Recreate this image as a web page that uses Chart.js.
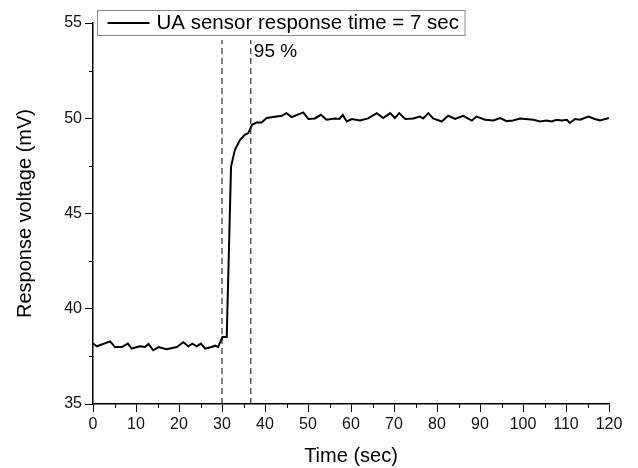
<!DOCTYPE html>
<html>
<head>
<meta charset="utf-8">
<script src="https://cdn.jsdelivr.net/npm/chart.js@4.4.1/dist/chart.umd.min.js"></script>
<style>
  html, body { margin: 0; padding: 0; background: #fff; }
  #wrap { width: 638px; height: 468px; position: relative; }
</style>
</head>
<body>
<div id="wrap"><canvas id="canvas"></canvas></div>
<script>
// response curve
var timeSec = [0, 0.9, 4.0, 5.1, 6.7, 8.1, 9.0, 10.9, 12.1, 12.9, 14.0, 15.2, 17.1, 19.5, 21.0, 22.2, 23.1, 24.1, 25.1, 26.1, 27.6, 28.4, 29.1,
  30.1, 31.1, 32.1, 33.0, 34.2, 35.3, 36.1, 37.0, 38.1, 39.2, 40.4, 41.9, 43.9, 45.0, 46.2, 48.9, 50.1, 51.6, 53.0, 54.3, 56.3, 57.3, 58.1,
  59.0, 60.2, 62.1, 64.0, 66.0, 67.5, 69.1, 70.2, 71.2, 72.6, 74.5, 76.0, 76.8, 78.0, 79.1, 81.1, 82.6, 84.2, 86.1, 88.1, 89.2, 91.2, 93.1,
  94.7, 96.2, 97.7, 99.3, 102.4, 104.0, 105.5, 106.7, 107.8, 109.0, 110.2, 110.9, 112.1, 113.3, 115.2, 116.7, 117.9, 120.0];
var voltage = [38.17, 38.03, 38.29, 37.99, 37.99, 38.17, 37.91, 38.03, 37.99, 38.15, 37.82, 37.99, 37.88, 37.99, 38.24, 38.03, 38.17, 38.03, 38.17, 37.91, 37.99, 38.06, 37.99,
  38.52, 38.52, 47.46, 48.34, 48.87, 49.13, 49.22, 49.66, 49.78, 49.78, 50.01, 50.06, 50.13, 50.27, 50.06, 50.31, 49.96, 49.99, 50.18, 49.92, 49.99, 49.96, 50.17,
  49.83, 49.96, 49.88, 49.99, 50.27, 50.01, 50.27, 50.01, 50.27, 49.96, 49.99, 50.09, 49.99, 50.27, 49.99, 49.83, 50.13, 49.96, 50.13, 49.88, 50.09, 49.92, 49.88,
  50.01, 49.85, 49.88, 49.99, 49.92, 49.83, 49.88, 49.83, 49.92, 49.88, 49.92, 49.75, 49.96, 49.92, 50.09, 49.96, 49.88, 50.01];

// marker lines: start of exposure and 95 % point
var markerTimes = [30, 36.7];
var markerRange = [35, 54.1];
var legendLabel = "UA sensor response time = 7 sec";
var markerLabel = "95 %";

var xMin = 0, xMax = 120, xStep = 10;
var yMin = 35, yMax = 55, yStep = 5;

var FONT = "'Liberation Sans', Arial, sans-serif";

var curve = [];
for (var i = 0; i < timeSec.length; i++) curve.push({ x: timeSec[i], y: voltage[i] });

var datasets = [{
  data: curve,
  borderColor: "#000",
  borderWidth: 2,
  pointRadius: 0,
  showLine: true,
  tension: 0
}];
markerTimes.forEach(function (t) {
  datasets.push({
    data: [{ x: t, y: markerRange[0] }, { x: t, y: markerRange[1] }],
    borderColor: "#000",
    borderWidth: 1,
    borderDash: [6, 4],
    pointRadius: 0,
    showLine: true
  });
});

// minor ticks, the 95 % note and the boxed legend
var extras = {
  id: "extras",
  afterDraw: function (chart) {
    var ctx = chart.ctx;
    var xs = chart.scales.x, ys = chart.scales.y;
    ctx.save();
    ctx.strokeStyle = "#000";
    ctx.lineWidth = 1;
    ctx.beginPath();
    for (var v = xMin + xStep / 2; v < xMax; v += xStep) {
      var px = Math.round(xs.getPixelForValue(v)) + 0.5;
      ctx.moveTo(px, ys.bottom);
      ctx.lineTo(px, ys.bottom + 4);
    }
    for (var w = yMin + yStep / 2; w < yMax; w += yStep) {
      var py = Math.round(ys.getPixelForValue(w)) + 0.5;
      ctx.moveTo(xs.left, py);
      ctx.lineTo(xs.left - 4, py);
    }
    ctx.stroke();

    ctx.fillStyle = "#000";
    ctx.font = "19px " + FONT;
    ctx.textBaseline = "middle";
    ctx.textAlign = "left";
    ctx.fillText(markerLabel, xs.getPixelForValue(markerTimes[1]) + 3, ys.getPixelForValue(53.5));

    // legend box
    ctx.font = "20.5px " + FONT;
    var tw = ctx.measureText(legendLabel).width;
    var bx = 97.5, by = 10.5, bh = 25;
    var bw = 59 + tw + 6;
    ctx.fillStyle = "#fff";
    ctx.fillRect(bx, by, bw, bh);
    ctx.strokeStyle = "#888";
    ctx.strokeRect(bx, by, bw, bh);
    ctx.strokeStyle = "#000";
    ctx.lineWidth = 2;
    ctx.beginPath();
    ctx.moveTo(bx + 10, by + 12.5);
    ctx.lineTo(bx + 52, by + 12.5);
    ctx.stroke();
    ctx.fillStyle = "#000";
    ctx.fillText(legendLabel, bx + 59, by + 13);
    ctx.restore();
  }
};

var ctx = document.getElementById("canvas").getContext("2d");
new Chart(ctx, {
  type: "scatter",
  data: { datasets: datasets },
  plugins: [extras],
  options: {
    responsive: true,
    maintainAspectRatio: false,
    animation: false,
    layout: { padding: { top: 23, right: 29, left: 0, bottom: 0 } },
    plugins: { legend: { display: false }, tooltip: { enabled: false } },
    scales: {
      x: {
        type: "linear",
        min: xMin, max: xMax,
        afterFit: function (s) { s.height = 64; },
        ticks: { stepSize: xStep, color: "#111", font: { size: 16, family: FONT }, padding: 3, maxRotation: 0 },
        grid: { drawOnChartArea: false, color: "#000", tickLength: 8, tickWidth: 1 },
        border: { color: "#000", width: 1.5 },
        title: { display: true, text: "Time (sec)", color: "#000", font: { size: 20, family: FONT }, padding: { top: 0, bottom: 0 } }
      },
      y: {
        type: "linear",
        min: yMin, max: yMax,
        afterFit: function (s) { s.width = 93; },
        ticks: { stepSize: yStep, color: "#111", font: { size: 16, family: FONT }, padding: 3 },
        grid: { drawOnChartArea: false, color: "#000", tickLength: 8, tickWidth: 1 },
        border: { color: "#000", width: 1.5 },
        title: { display: true, text: "Response voltage (mV)", color: "#000", font: { size: 20, family: FONT }, padding: { top: 13, bottom: 0 } }
      }
    }
  }
});
</script>
</body>
</html>
